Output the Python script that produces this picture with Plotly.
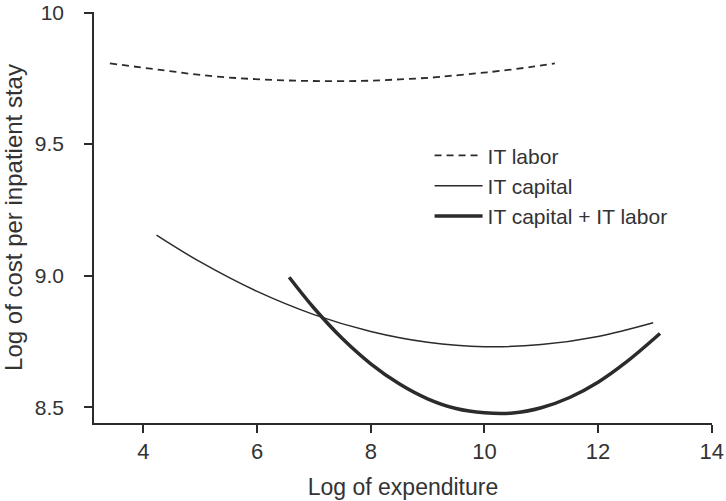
import plotly.graph_objects as go

# Values
labor_x = [3.41, 4.29, 5.17, 6.05, 6.93, 7.81, 8.51, 9.09, 9.39, 9.87, 10.27, 10.85, 11.24]
labor_y = [9.807, 9.782, 9.759, 9.746, 9.740, 9.740, 9.746, 9.753, 9.759, 9.769, 9.778, 9.794, 9.807]

capital_x = [4.23, 5.0, 6.0, 7.0, 8.0, 9.0, 10.0, 11.0, 12.0, 12.97]
capital_y = [9.154, 9.052, 8.940, 8.852, 8.788, 8.747, 8.730, 8.738, 8.769, 8.821]

both_x = [6.565, 7.0, 7.5, 8.0, 8.5, 9.0, 9.5, 10.0, 10.5, 11.0, 11.5, 12.0, 12.5, 13.09]
both_y = [8.994, 8.877, 8.761, 8.665, 8.589, 8.532, 8.495, 8.479, 8.478, 8.498, 8.537, 8.595, 8.672, 8.780]

x_ticks = [4, 6, 8, 10, 12, 14]
y_ticks = [8.5, 9.0, 9.5, 10]
y_tick_text = ['8.5', '9.0', '9.5', '10']

ink = '#2b2b2b'
txt = '#333333'

fig = go.Figure()

fig.add_trace(go.Scatter(
    x=labor_x, y=labor_y, mode='lines', name='IT labor',
    line=dict(color=ink, width=1.8, dash='7px,5px', shape='spline'),
))
fig.add_trace(go.Scatter(
    x=capital_x, y=capital_y, mode='lines', name='IT capital',
    line=dict(color=ink, width=1.5, shape='spline'),
))
fig.add_trace(go.Scatter(
    x=both_x, y=both_y, mode='lines', name='IT capital + IT labor',
    line=dict(color=ink, width=3.5, shape='spline'),
))

fig.update_layout(
    width=726,
    height=501,
    margin=dict(l=94, r=14, t=12, b=78),
    plot_bgcolor='white',
    paper_bgcolor='white',
    font=dict(family='Liberation Sans, Arial, sans-serif', size=22, color=txt),
    showlegend=True,
    legend=dict(
        x=0.543, y=0.70, xanchor='left', yanchor='top',
        bgcolor='rgba(0,0,0,0)',
        font=dict(size=21, color=txt),
        itemwidth=48,
    ),
    xaxis=dict(
        range=[3.13, 14.005],
        tickvals=x_ticks,
        tickfont=dict(size=22, color=txt),
        showline=True, linecolor=ink, linewidth=1.5,
        ticks='outside', ticklen=8, tickwidth=1.5, tickcolor=ink,
        ticklabelstandoff=0, ticklabeloverflow='allow',
        showgrid=False, zeroline=False, automargin=False,
        title=dict(text='Log of expenditure', font=dict(size=23, color=txt), standoff=16),
    ),
    yaxis=dict(
        range=[8.44, 10.002],
        tickvals=y_ticks, ticktext=y_tick_text,
        tickfont=dict(size=21, color=txt),
        showline=True, linecolor=ink, linewidth=1.5,
        ticks='outside', ticklen=8, tickwidth=1.5, tickcolor=ink,
        ticklabelstandoff=16, ticklabeloverflow='allow',
        showgrid=False, zeroline=False, automargin=False,
        title=dict(text='Log of cost per inpatient stay', font=dict(size=24, color=txt), standoff=6),
    ),
)

fig.write_html("out.html", config={'displayModeBar': False},
               post_script="document.body.style.margin='0px';")
